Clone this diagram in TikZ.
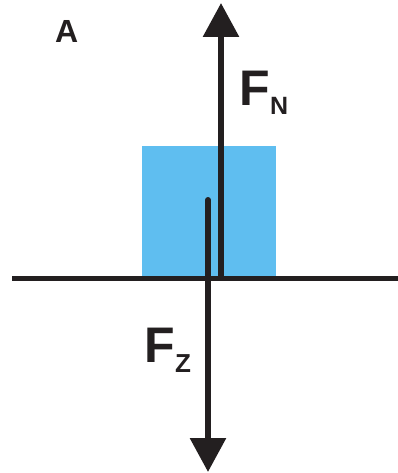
\documentclass[tikz,border=0pt]{standalone}
\usepackage{fontspec}
\setmainfont{Liberation Sans}
\usetikzlibrary{arrows.meta}
\definecolor{blockblue}{RGB}{95,190,240}
\definecolor{inkblack}{RGB}{35,31,32}

\begin{document}
\begin{tikzpicture}[x=1pt,y=-1pt,
    force/.style={line width=6pt, draw=inkblack, -{Triangle[width=35pt,length=34pt]}},
    forcename/.style={anchor=base west, inner sep=0pt, text=inkblack,
      font=\bfseries\fontsize{50}{50}\selectfont}]
\useasboundingbox (0,0) rectangle (398,473);
% Block resting on the ground
\fill[blockblue] (142,146) rectangle (276,278);
% Ground
\draw[line width=5pt, inkblack] (12,278) -- (398,278);
% Normal force, acting on the ground upwards
\coordinate (nbase) at (221,278);
\coordinate (ntip) at (221,3);
\draw[force] (nbase) -- (ntip);
% Weight, from the middle of the block downwards
\coordinate (zbase) at (208,200);
\coordinate (ztip) at (208,472);
\draw[force, line cap=round] (zbase) -- (ztip);
% Labels
\node[forcename] (fn) at (239.5,106) {F\raisebox{-9pt}{\fontsize{25}{25}\selectfont N}};
\node[forcename] (fz) at (144.5,362) {F\raisebox{-10pt}{\fontsize{26}{26}\selectfont Z}};
\node[forcename, font=\bfseries\fontsize{32}{32}\selectfont] (title) at (55,43) {A};
\end{tikzpicture}
\end{document}
